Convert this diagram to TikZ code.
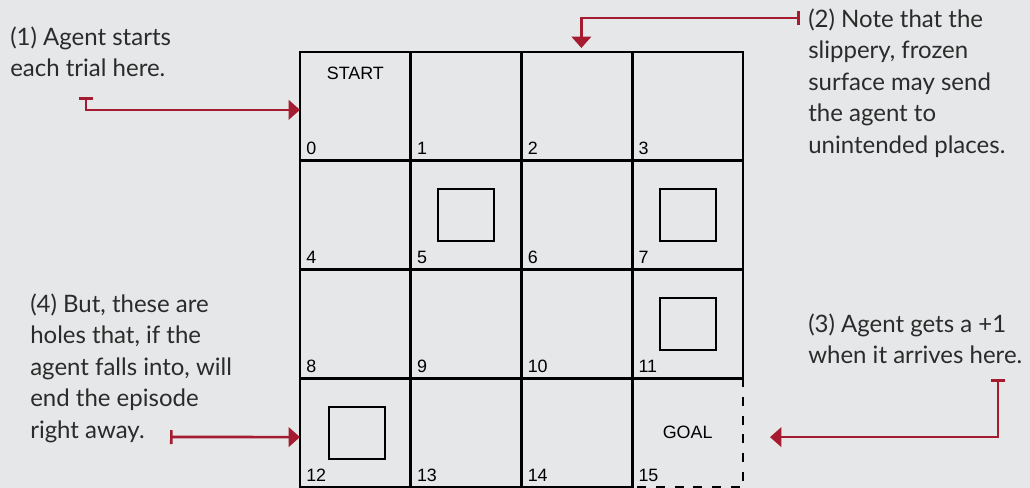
\documentclass[tikz,border=0pt]{standalone}
\usepackage{fontspec}
\setmainfont{Liberation Sans}
\newfontfamily\annfont{Lato}
\usetikzlibrary{arrows.meta,calc}
\definecolor{bg}{HTML}{E6E7E8}
\definecolor{crim}{HTML}{A51C30}
\definecolor{ink}{HTML}{2B2B2B}
\begin{document}
\begin{tikzpicture}[x=0.75pt,y=-0.75pt,
  cell/.style={draw=black, line width=2pt, minimum width=83.06pt, minimum height=81.56pt, inner sep=0pt, outer sep=0pt},
  goalcell/.style={minimum width=83.06pt, minimum height=81.56pt, inner sep=0pt, outer sep=0pt},
  hole/.style={draw=black, line width=1.6pt, minimum width=42pt, minimum height=39pt, inner sep=0pt},
  num/.style={font=\fontsize{13.4}{15}\selectfont, inner sep=0pt, anchor=base west},
  lbl/.style={font=\fontsize{13.4}{15}\selectfont, inner sep=0pt},
  ann/.style={font=\annfont\fontsize{18}{23.6}\selectfont, text=ink, align=left, inner sep=0pt, anchor=north west},
  callout/.style={draw=crim, line width=2pt, {Bar[width=10.5pt]}-{Triangle[length=8.5pt,width=14.5pt]}},
  dashedge/.style={draw=black, line width=2pt, dash pattern=on 6.75pt off 7.25pt}
]
\fill[bg] (0,0) rectangle (1030,488);
\useasboundingbox (0,0) rectangle (1030,488);

% grid cells
\foreach \i in {0,...,14} {
  \pgfmathtruncatemacro\cc{mod(\i,4)}
  \pgfmathtruncatemacro\rr{div(\i,4)}
  \node[cell] (c\i) at ({300+110.75*(\cc+0.5)}, {52+108.75*(\rr+0.5)}) {};
  \node[num] (n\i) at ($(c\i.south west)+(6,-6)$) {\i};
}
\node[goalcell] (c15) at ({300+110.75*3.5}, {52+108.75*3.5}) {};
\node[num] (n15) at ($(c15.south west)+(6,-6)$) {15};
\draw[dashedge] (c15.north east) -- (c15.south east) -- (c15.south west);

\node[lbl] (start) at ($(c0.north)+(0,21.5)$) {START};
\node[lbl] (goal) at (c15.center) {GOAL};

% holes
\node[hole] (h5) at (c5.center) {};
\node[hole] (h7) at (c7.center) {};
\node[hole] (h11) at (c11.center) {};
\node[hole] (h12) at ($(c12.center)+(2,0)$) {};

% annotations
\node[ann] (a1) at (10,26.3) {(1) Agent starts\\each trial here.};
\node[ann] (a2) at (808,8.3) {(2) Note that the\\slippery, frozen\\surface may send\\the agent to\\unintended places.};
\node[ann] (a3) at (808,313.3) {(3) Agent gets a +1\\when it arrives here.};
\node[ann] (a4) at (30,293.3) {(4) But, these are\\holes that, if the\\agent falls into, will\\end the episode\\right away.};

% callout arrows
\coordinate (t1) at (86,97);
\coordinate (t2) at (800,18);
\coordinate (t3) at (998,379);
\coordinate (t4) at (170,437);
\coordinate (e2) at ($(c2.north)+(4.5,-4)$);
\coordinate (e3) at ($(c15.east)+(27,4.5)$);
\draw[callout] (t1) |- ($(c0.west)+(0,3.5)$);
\draw[callout] (t2) -| (e2);
\draw[callout] (t3) |- (e3);
\draw[callout] (t4) -- ($(c12.west)+(0,4.5)$);
\end{tikzpicture}
\end{document}
